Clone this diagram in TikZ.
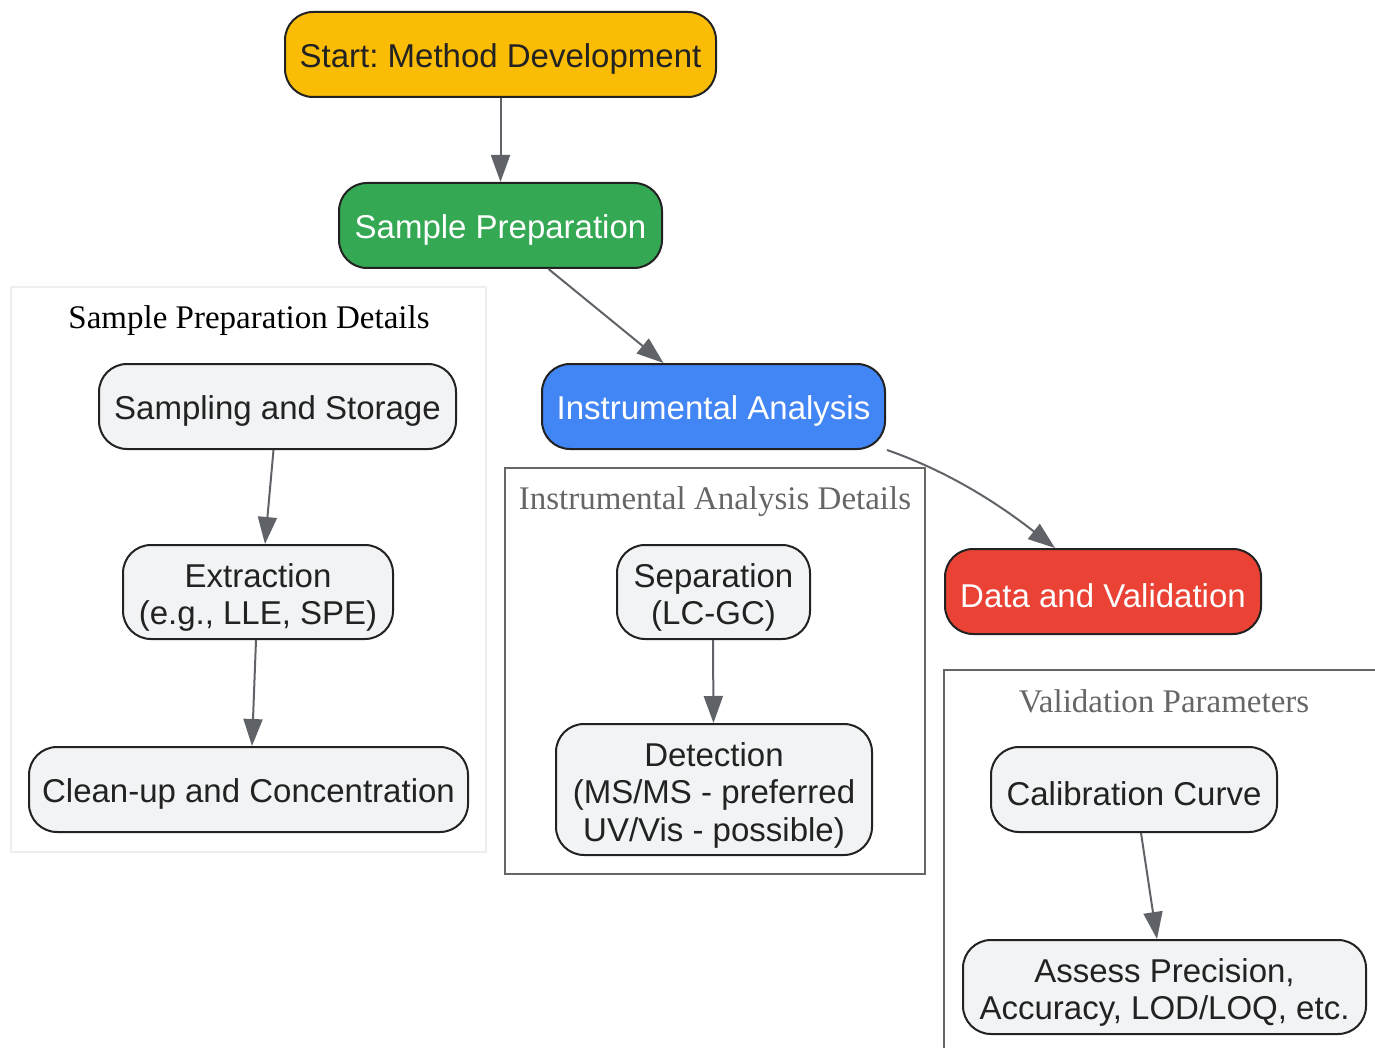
\documentclass[tikz,border=0pt]{standalone}
\usepackage{fontspec}
\setmainfont{Liberation Serif}
\setsansfont{Liberation Sans}
\usetikzlibrary{arrows.meta}
\frenchspacing
\definecolor{cyellow}{HTML}{FBBC05}
\definecolor{cgreen}{HTML}{34A853}
\definecolor{cblue}{HTML}{4285F4}
\definecolor{cred}{HTML}{EA4335}
\definecolor{cgray}{HTML}{F1F3F4}
\definecolor{cborder}{HTML}{222222}
\definecolor{ctext}{HTML}{222222}
\definecolor{cedge}{HTML}{5F6368}
\definecolor{cclus}{HTML}{666666}
\definecolor{cclus1}{HTML}{EEEEEE}
\tikzset{
  box/.style={draw=cborder, line width=2pt, rounded corners=28pt, inner sep=0pt,
    align=center, font=\sffamily\fontsize{33}{37.5}\selectfont, text=ctext, fill=cgray,
    execute at begin node={\rule{0pt}{33pt}}},
  mainbox/.style={box, text=white},
  boxtext/.style={align=center, font=\sffamily\fontsize{33}{37.5}\selectfont, text=ctext,
    inner sep=0pt, yshift=-5.5pt},
  flow/.style={draw=cedge, line width=2pt, -{Triangle[length=27pt,width=19pt]}},
  clusbox/.style={draw=cclus, line width=2pt},
  clustitle/.style={font=\rmfamily\fontsize{33}{37.5}\selectfont, text=cclus, inner sep=0pt},
}
\begin{document}
\begin{tikzpicture}[x=1pt,y=-1pt]
\useasboundingbox (0,0) rectangle (1375,1048);
% clusters
\draw[draw=cclus1, line width=2pt] (11,287) rectangle (486,852);
\node[clustitle, text=black] (t1) at (249,321) {Sample Preparation Details};
\draw[clusbox] (505,468) rectangle (925,874);
\node[clustitle] (t2) at (715,502) {Instrumental Analysis Details};
\draw[clusbox] (1376,670) -- (944,670) -- (944,1049);
\node[clustitle] (t3) at (1164,701) {Validation Parameters};
% main nodes
\node[box, fill=cyellow, minimum width=431pt, minimum height=85pt] (start) at (500.5,54.5) {Start: Method Development};
\node[mainbox, fill=cgreen, minimum width=323pt, minimum height=85pt] (prep) at (500.5,225.5) {Sample Preparation};
\node[mainbox, fill=cblue, minimum width=343pt, minimum height=85pt] (instr) at (713.5,406.5) {Instrumental Analysis};
\node[mainbox, fill=cred, minimum width=316pt, minimum height=85pt] (data) at (1103,591.5) {Data and Validation};
% sample prep details
\node[box, minimum width=357pt, minimum height=85pt] (samp) at (277.5,406.5) {Sampling and Storage};
\node[box, minimum width=270pt, minimum height=94pt,
  label={[boxtext]center:{Extraction\\(e.g., LLE, SPE)}}] (extr) at (258,592) {};
\node[box, minimum width=439pt, minimum height=85pt] (clean) at (248.5,789.5) {Clean-up and Concentration};
% instrumental details
\node[box, minimum width=193pt, minimum height=94pt,
  label={[boxtext]center:{Separation\\(LC-GC)}}] (sep) at (713.5,592) {};
\node[box, minimum width=316pt, minimum height=131pt,
  label={[boxtext]center:{Detection\\(MS/MS - preferred\\UV/Vis - possible)}}] (det) at (714,789.5) {};
% validation
\node[box, minimum width=286pt, minimum height=85pt] (cal) at (1134,789.5) {Calibration Curve};
\node[box, minimum width=403pt, minimum height=94pt,
  label={[boxtext]center:{Assess Precision,\\Accuracy, LOD/LOQ, etc.}}] (assess) at (1164.5,987) {};
% edges
\draw[flow] (start.south) -- (prep.north);
\draw[flow] ([xshift=48pt]prep.south) -- ([xshift=-50pt]instr.north);
\draw[flow] ([xshift=1pt]instr.south east) .. controls (950,472) and (1000,505) .. ([xshift=-48pt]data.north);
\draw[flow] ([xshift=-4pt]samp.south) -- ([xshift=7pt]extr.north);
\draw[flow] ([xshift=-2pt]extr.south) -- ([xshift=3.5pt]clean.north);
\draw[flow] ([xshift=-0.5pt]sep.south) -- ([xshift=-0.5pt]det.north);
\draw[flow] ([xshift=7pt]cal.south) -- ([xshift=-7.5pt]assess.north);
\end{tikzpicture}
\end{document}
